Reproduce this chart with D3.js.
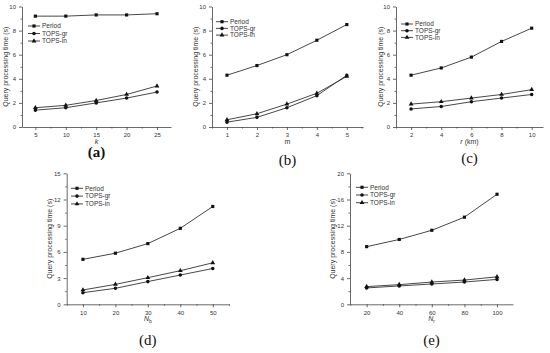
<!DOCTYPE html>
<html>
<head>
<meta charset="utf-8">
<script src="https://cdn.jsdelivr.net/npm/d3@7"></script>
<style>
  body { margin: 0; background: #fff; }
  svg { display: block; font-family: "Liberation Sans", Arial, sans-serif; }
  .axis path, .axis line { stroke: #444; stroke-width: 0.8; }
  .axis text { fill: #333; font-size: 6px; }
</style>
</head>
<body>
<div id="chart"></div>
<script>
// series names
var seriesNames = ["Period", "TOPS-gr", "TOPS-in"];

// (a) varying k
var kValues = [5, 10, 15, 20, 25];
var periodA = [9.2, 9.2, 9.3, 9.3, 9.4];
var grA = [1.4, 1.6, 2.0, 2.4, 2.9];
var inA = [1.6, 1.8, 2.2, 2.7, 3.4];

// (b) varying m
var mValues = [1, 2, 3, 4, 5];
var periodB = [4.3, 5.1, 6.0, 7.2, 8.5];
var grB = [0.4, 0.8, 1.6, 2.6, 4.3];
var inB = [0.6, 1.1, 1.9, 2.8, 4.2];

// (c) varying r (km)
var rValues = [2, 4, 6, 8, 10];
var periodC = [4.3, 4.9, 5.8, 7.1, 8.2];
var grC = [1.5, 1.7, 2.1, 2.4, 2.7];
var inC = [1.9, 2.1, 2.4, 2.7, 3.1];

// (d) varying Nb
var nbValues = [10, 20, 30, 40, 50];
var periodD = [5.15, 5.85, 6.95, 8.7, 11.2];
var grD = [1.33, 1.83, 2.6, 3.35, 4.1];
var inD = [1.64, 2.28, 3.05, 3.85, 4.75];

// (e) varying Nr
var nrValues = [20, 40, 60, 80, 100];
var periodE = [8.8, 9.9, 11.3, 13.3, 16.8];
var grE = [2.5, 2.8, 3.1, 3.4, 3.8];
var inE = [2.7, 3.0, 3.4, 3.7, 4.2];

var yTicksA = [0, 2, 4, 6, 8, 10];
var yTicksD = [0, 3, 6, 9, 12, 15];
var yTicksE = [0, 4, 8, 12, 16, 20];

var width = 550, height = 353;
var svg = d3.select("#chart").append("svg")
    .attr("width", width)
    .attr("height", height);

var symbols = [d3.symbolSquare, d3.symbolCircle, d3.symbolTriangle];
var fmt = d3.format("d");

function drawPanel(cfg) {
    var x = d3.scaleLinear().domain(cfg.xDomain).range([cfg.left, cfg.right]);
    var y = d3.scaleLinear().domain([0, cfg.yMax]).range([cfg.bottom, cfg.top]);
    var g = svg.append("g");

    // minor ticks
    var xStep = cfg.xTicks[1] - cfg.xTicks[0];
    var xMinor = [];
    for (var v = cfg.xTicks[0] - xStep / 2; v <= cfg.xDomain[1]; v += xStep / 2) {
        if (v >= cfg.xDomain[0] && cfg.xTicks.indexOf(v) < 0) xMinor.push(v);
    }
    var yStep = cfg.yTicks[1] - cfg.yTicks[0];
    var yMinor = cfg.yTicks.slice(0, -1).map(function(t) { return t + yStep / 2; });

    g.append("g").attr("class", "axis")
        .attr("transform", "translate(0," + cfg.bottom + ")")
        .call(d3.axisBottom(x).tickValues(xMinor).tickSize(1.5).tickFormat(""))
        .call(function(s) { s.select(".domain").remove(); });
    g.append("g").attr("class", "axis")
        .attr("transform", "translate(" + cfg.left + ",0)")
        .call(d3.axisLeft(y).tickValues(yMinor).tickSize(1.5).tickFormat(""))
        .call(function(s) { s.select(".domain").remove(); });

    g.append("g").attr("class", "axis")
        .attr("transform", "translate(0," + cfg.bottom + ")")
        .call(d3.axisBottom(x).tickValues(cfg.xTicks).tickFormat(fmt).tickSize(3).tickSizeOuter(0).tickPadding(3));
    g.append("g").attr("class", "axis")
        .attr("transform", "translate(" + cfg.left + ",0)")
        .call(d3.axisLeft(y).tickValues(cfg.yTicks).tickFormat(fmt).tickSize(3).tickSizeOuter(0).tickPadding(3));

    // y title
    g.append("text")
        .attr("transform", "translate(" + cfg.yTitleX + "," + ((cfg.top + cfg.bottom) / 2) + ") rotate(-90)")
        .attr("text-anchor", "middle")
        .style("font-size", "7px")
        .style("fill", "#333")
        .text("Query processing time (s)");

    // x title
    var xt = g.append("text")
        .attr("x", (cfg.left + cfg.right) / 2)
        .attr("y", cfg.bottom + 17)
        .attr("text-anchor", "middle")
        .style("font-size", "7px")
        .style("fill", "#333");
    xt.append("tspan").style("font-style", cfg.xItalic ? "italic" : "normal").text(cfg.xLabel);
    if (cfg.xSub) xt.append("tspan").attr("dy", 2).style("font-size", "5px").text(cfg.xSub);
    if (cfg.xRest) xt.append("tspan").text(cfg.xRest);

    // panel letter
    g.append("text")
        .attr("x", (cfg.left + cfg.right) / 2)
        .attr("y", cfg.letterY)
        .attr("text-anchor", "middle")
        .style("font-family", "'Liberation Serif', 'Times New Roman', serif")
        .style("font-size", "15px")
        .style("font-weight", cfg.bold ? "bold" : "normal")
        .style("fill", "#111")
        .text(cfg.letter);

    var line = d3.line()
        .x(function(d) { return x(d[0]); })
        .y(function(d) { return y(d[1]); });

    cfg.series.forEach(function(vals, i) {
        var pts = cfg.xs.map(function(xv, j) { return [xv, vals[j]]; });
        g.append("path")
            .attr("d", line(pts))
            .attr("fill", "none")
            .attr("stroke", "#333")
            .attr("stroke-width", 0.9);
        g.selectAll(".m" + i).data(pts).enter().append("path")
            .attr("transform", function(d) { return "translate(" + x(d[0]) + "," + y(d[1]) + ")"; })
            .attr("d", d3.symbol().type(symbols[i]).size(10))
            .attr("fill", "#111");
    });

    // legend
    seriesNames.forEach(function(name, i) {
        var ly = cfg.legY + i * cfg.legGap;
        g.append("line")
            .attr("x1", cfg.legX).attr("x2", cfg.legX + 12)
            .attr("y1", ly).attr("y2", ly)
            .attr("stroke", "#333").attr("stroke-width", 0.9);
        g.append("path")
            .attr("transform", "translate(" + (cfg.legX + 6) + "," + ly + ")")
            .attr("d", d3.symbol().type(symbols[i]).size(10))
            .attr("fill", "#111");
        g.append("text")
            .attr("x", cfg.legX + 14).attr("y", ly + 2.2)
            .style("font-size", "6.5px")
            .style("fill", "#333")
            .text(name);
    });
}

drawPanel({ left: 22, right: 171, top: 6.5, bottom: 127, xDomain: [2.8, 27.3], xTicks: kValues,
    yMax: 10, yTicks: yTicksA, xs: kValues, series: [periodA, grA, inA],
    xLabel: "k", xItalic: true, yTitleX: 8, letter: "(a)", letterY: 157, bold: true,
    legX: 28, legY: 26, legGap: 7.5 });

drawPanel({ left: 212, right: 363, top: 6.5, bottom: 127, xDomain: [0.5, 5.54], xTicks: mValues,
    yMax: 10, yTicks: yTicksA, xs: mValues, series: [periodB, grB, inB],
    xLabel: "m", xItalic: false, yTitleX: 198, letter: "(b)", letterY: 165, bold: false,
    legX: 216, legY: 21.7, legGap: 6.7 });

drawPanel({ left: 396, right: 543, top: 6.5, bottom: 127, xDomain: [1, 10.75], xTicks: rValues,
    yMax: 10, yTicks: yTicksA, xs: rValues, series: [periodC, grC, inC],
    xLabel: "r", xItalic: true, xRest: " (km)", yTitleX: 383, letter: "(c)", letterY: 163, bold: false,
    legX: 401, legY: 24, legGap: 6.7 });

drawPanel({ left: 66.7, right: 229, top: 173.3, bottom: 304.3, xDomain: [5, 55], xTicks: nbValues,
    yMax: 15, yTicks: yTicksD, xs: nbValues, series: [periodD, grD, inD],
    xLabel: "N", xSub: "b", xItalic: true, yTitleX: 52, letter: "(d)", letterY: 345, bold: false,
    legX: 71, legY: 188.3, legGap: 7.8 });

drawPanel({ left: 350, right: 513, top: 173.3, bottom: 304.3, xDomain: [9.8, 109.8], xTicks: nrValues,
    yMax: 20, yTicks: yTicksE, xs: nrValues, series: [periodE, grE, inE],
    xLabel: "N", xSub: "r", xItalic: true, yTitleX: 335, letter: "(e)", letterY: 345, bold: false,
    legX: 356, legY: 187.3, legGap: 7.7 });
</script>
</body>
</html>
